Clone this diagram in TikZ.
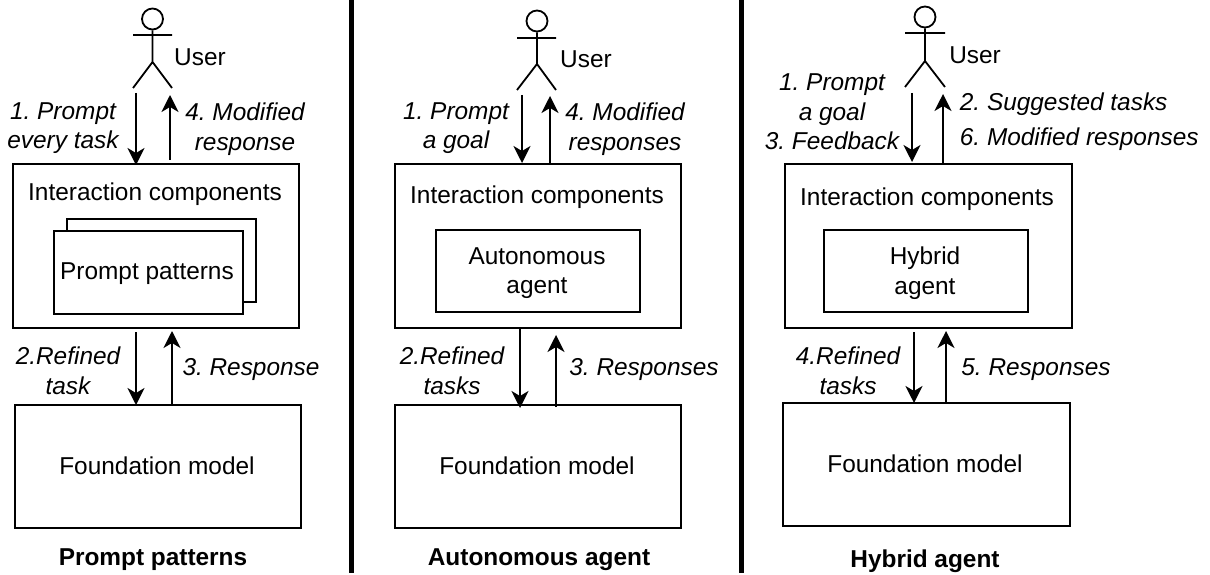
\documentclass[tikz,border=0pt]{standalone}
\usepackage{fontspec}
\setmainfont{Liberation Sans}
\usetikzlibrary{arrows.meta,positioning}

\begin{document}
\begin{tikzpicture}[x=1pt, y=-1pt, >={Stealth[length=17pt,width=17pt,inset=5pt]}, line width=1.8pt, inner sep=0pt, font=\fontsize{24.4}{29.5}\selectfont\frenchspacing]
\tikzstyle{box}=[draw, rectangle, fill=white, align=center]
\tikzstyle{txt}=[align=center]
\tikzstyle{lbl}=[align=center, font=\fontsize{24.4}{29.5}\selectfont\itshape\frenchspacing]
\tikzstyle{caption}=[font=\fontsize{24.4}{29.5}\selectfont\bfseries]
\useasboundingbox (0,0) rectangle (1210,575);

% prompt patterns
\node [box, minimum width=286pt, minimum height=164pt] (ic1) at (156,246) {};
\node (ic1t) at (155,194) {Interaction components};
\node [box, minimum width=189pt, minimum height=83pt] (pp2) at (161.5,260.5) {};
\node [box, minimum width=189pt, minimum height=83pt] (pp1) at (148.5,272.5) {};
\node (pp1t) at (147,273.5) {Prompt patterns};
\node [box, minimum width=286pt, minimum height=123pt] (fm1) at (158,466.5) {};
\node (fm1t) at (157,465.5) {Foundation model};
\node (cap1) at (153,560) [caption] {Prompt patterns};

\node [draw, circle, minimum size=21pt] (head1) at (152.5,19) {};
\coordinate (hip1) at (152.5,62);
\coordinate (al1) at (133,35);
\coordinate (ar1) at (172,35);
\coordinate (fl1) at (133,88);
\coordinate (fr1) at (172,88);
\draw (head1) -- (hip1) (al1) -- (ar1) (fl1) -- (hip1) -- (fr1);
\node (user1) at (200,57) {User};

\coordinate (a1) at (136,93);
\coordinate (a1e) at (136,165);
\coordinate (b1) at (170,160);
\coordinate (b1e) at (170,95);
\draw [->] (a1) -- (a1e);
\draw [->] (b1) -- (b1e);
\node (la1) [lbl] at (63,128) {1. Prompt\\every task};
\node (lb1) [lbl] at (245,129) {4. Modified\\response};
\coordinate (c1) at (136,332);
\coordinate (c1e) at (136,405);
\coordinate (d1) at (172,405);
\coordinate (d1e) at (172,331);
\draw [->] (c1) -- (c1e);
\draw [->] (d1) -- (d1e);
\node (lc1) [lbl] at (68,371) {2.Refined\\task};
\node (ld1) [lbl] at (251,370) {3. Response};

% autonomous agent
\node (div1) [draw, fill=black, line width=0pt, minimum width=4pt, minimum height=572pt] at (351,286) {};
\node [box, minimum width=286pt, minimum height=164pt] (ic2) at (538,246) {};
\node (ic2t) at (537,197) {Interaction components};
\node [box, minimum width=204pt, minimum height=82pt] (aa) at (538,271) {};
\node (aat) [txt] at (537,273) {Autonomous\\agent};
\node [box, minimum width=286pt, minimum height=123pt] (fm2) at (538,466.5) {};
\node (fm2t) at (537,465.5) {Foundation model};
\node (cap2) at (539,560) [caption] {Autonomous agent};

\node [draw, circle, minimum size=21pt] (head2) at (537,21) {};
\coordinate (hip2) at (537,64);
\coordinate (al2) at (517,38);
\coordinate (ar2) at (556,38);
\coordinate (fl2) at (517,90);
\coordinate (fr2) at (556,90);
\draw (head2) -- (hip2) (al2) -- (ar2) (fl2) -- (hip2) -- (fr2);
\node (user2) at (586,59) {User};

\coordinate (a2) at (522,95);
\coordinate (a2e) at (522,163);
\coordinate (b2) at (550,164);
\coordinate (b2e) at (550,96);
\draw [->] (a2) -- (a2e);
\draw [->] (b2) -- (b2e);
\node (la2) [lbl] at (456,128) {1. Prompt\\a goal};
\node (lb2) [lbl] at (625,129) {4. Modified\\responses};
\coordinate (c2) at (520,328);
\coordinate (c2e) at (520,408);
\coordinate (d2) at (556,407);
\coordinate (d2e) at (556,335);
\draw [->] (c2) -- (c2e);
\draw [->] (d2) -- (d2e);
\node (lc2) [lbl] at (452,371) {2.Refined\\tasks};
\node (ld2) [lbl] at (644,370) {3. Responses};

% hybrid agent
\node (div2) [draw, fill=black, line width=0pt, minimum width=4pt, minimum height=572pt] at (741.5,286) {};
\node [box, minimum width=287pt, minimum height=164pt] (ic3) at (928.5,246) {};
\node (ic3t) at (927,199) {Interaction components};
\node [box, minimum width=204pt, minimum height=82pt] (ha) at (926,271) {};
\node (hat) [txt] at (925,273) {Hybrid\\agent};
\node [box, minimum width=287pt, minimum height=123pt] (fm3) at (926.5,464.5) {};
\node (fm3t) at (925,463.5) {Foundation model};
\node (cap3) at (925,561) [caption] {Hybrid agent};

\node [draw, circle, minimum size=21pt] (head3) at (925,17) {};
\coordinate (hip3) at (925,61);
\coordinate (al3) at (905,33);
\coordinate (ar3) at (945,33);
\coordinate (fl3) at (905,87);
\coordinate (fr3) at (945,87);
\draw (head3) -- (hip3) (al3) -- (ar3) (fl3) -- (hip3) -- (fr3);
\node (user3) at (975,55) {User};

\coordinate (a3) at (912,93);
\coordinate (a3e) at (912,162);
\coordinate (b3) at (943,164);
\coordinate (b3e) at (943,94);
\draw [->] (a3) -- (a3e);
\draw [->] (b3) -- (b3e);
\node (la3) [lbl] at (832,112) {1. Prompt\\a goal\\3. Feedback};
\node (lb3) [lbl, anchor=west] at (959,104) {2. Suggested tasks};
\node (lb3b) [lbl, anchor=west] at (959,139) {6. Modified responses};
\coordinate (c3) at (914,332);
\coordinate (c3e) at (914,403);
\coordinate (d3) at (946,403);
\coordinate (d3e) at (946,331);
\draw [->] (c3) -- (c3e);
\draw [->] (d3) -- (d3e);
\node (lc3) [lbl] at (848,371) {4.Refined\\tasks};
\node (ld3) [lbl] at (1036,370) {5. Responses};
\end{tikzpicture}
\end{document}
